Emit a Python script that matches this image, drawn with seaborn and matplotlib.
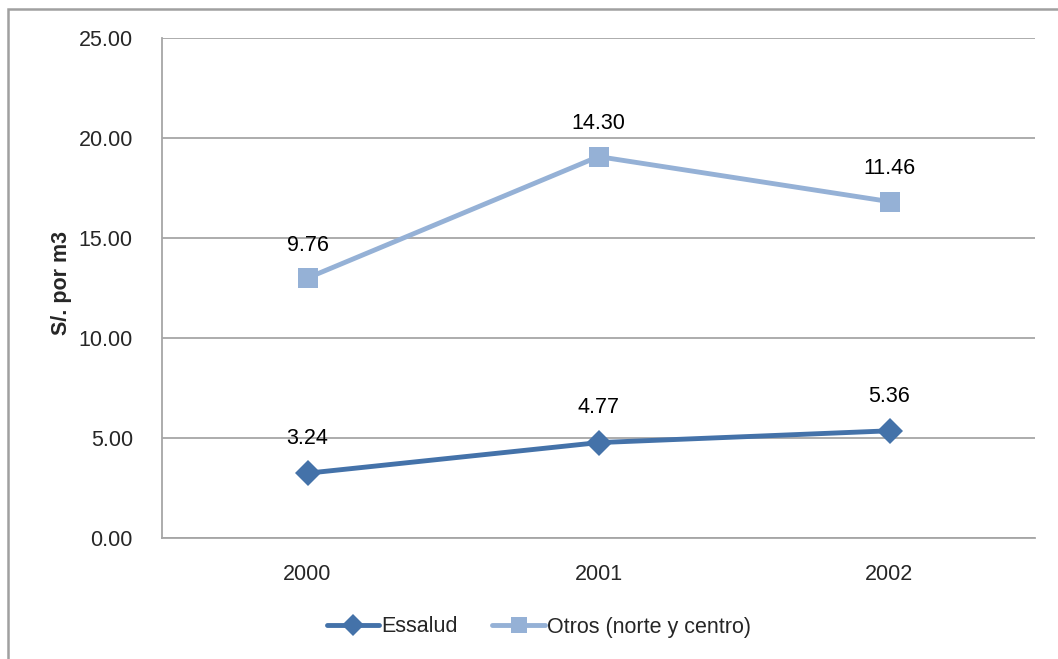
import matplotlib
matplotlib.use("Agg")
import matplotlib.pyplot as plt
from matplotlib.patches import Rectangle
from matplotlib.lines import Line2D
import numpy as np
import pandas as pd
import seaborn as sns

years = ["2000", "2001", "2002"]
essalud = [3.24, 4.77, 5.36]
otros = [9.76, 14.30, 11.46]
y_ticks = [0, 5, 10, 15, 20, 25]

# Stacked lines: the second series sits on top of the first
otros_stacked = list(np.array(essalud) + np.array(otros))

sns.set_theme(style="white")
plt.rcParams["font.family"] = ["Liberation Sans", "DejaVu Sans"]

FS = 15.5
c_ess = "#4472A9"
c_otr = "#95B1D6"
grid_c = "#A6A6A6"

fig = plt.figure(figsize=(10.58, 6.59), dpi=100)
ax = fig.add_axes([162 / 1058, 1 - 538 / 659, (1035 - 162) / 1058, 500 / 659])

df = pd.DataFrame({
    "x": list(range(len(years))) * 2,
    "y": essalud + otros_stacked,
    "serie": ["Essalud"] * 3 + ["Otros (norte y centro)"] * 3,
})

sns.lineplot(data=df[df.serie == "Essalud"], x="x", y="y", ax=ax, color=c_ess,
             linewidth=3.5, marker="D", markersize=13, markeredgewidth=0,
             legend=False, zorder=4)
sns.lineplot(data=df[df.serie != "Essalud"], x="x", y="y", ax=ax, color=c_otr,
             linewidth=3.5, marker="s", markersize=14, markeredgewidth=0,
             legend=False, zorder=4)

for i, v in enumerate(essalud):
    ax.annotate(f"{v:.2f}", (i, v), xytext=(0, 25), textcoords="offset points",
                ha="center", va="center", fontsize=FS, color="#000000", zorder=5)
for i, (v, top) in enumerate(zip(otros, otros_stacked)):
    ax.annotate(f"{v:.2f}", (i, top), xytext=(0, 23.5), textcoords="offset points",
                ha="center", va="center", fontsize=FS, color="#000000", zorder=5)

ax.set_xlim(-0.5, len(years) - 0.5)
ax.set_ylim(0, 25)
ax.set_xticks(range(len(years)))
ax.set_xticklabels(years, fontsize=FS)
ax.set_yticks(y_ticks)
ax.set_yticklabels([f"{t:.2f}" for t in y_ticks], fontsize=FS)
ax.tick_params(axis="both", length=0)
ax.tick_params(axis="x", pad=19)
ax.tick_params(axis="y", pad=21)
ax.set_xlabel("")
ax.set_ylabel("S/. por m3", fontsize=FS, fontweight="bold")
ax.yaxis.set_label_coords(-90 / 873, 0.51)

ax.yaxis.grid(True, color=grid_c, linewidth=1.3)
ax.set_axisbelow(True)
for s in ["top", "right"]:
    ax.spines[s].set_visible(False)
for s in ["left", "bottom"]:
    ax.spines[s].set_color(grid_c)
    ax.spines[s].set_linewidth(1.3)

handles = [
    Line2D([], [], color=c_ess, linewidth=3.5, marker="D", markersize=11, markeredgewidth=0),
    Line2D([], [], color=c_otr, linewidth=3.5, marker="s", markersize=12, markeredgewidth=0),
]
fig.legend(handles, ["Essalud", "Otros (norte y centro)"], loc="center",
           bbox_to_anchor=(539 / 1058, 1 - 627 / 659), ncol=2, frameon=False,
           fontsize=FS, handlelength=2.45, handletextpad=0.1, columnspacing=1.6)

# Chart-area frame
fig.patches.append(Rectangle((8 / 1058, -0.05), 1.1, 1 - 9 / 659 + 0.05,
                             transform=fig.transFigure, fill=False,
                             edgecolor="#A0A0A0", linewidth=1.8))

fig.savefig("out.png", dpi=100)
